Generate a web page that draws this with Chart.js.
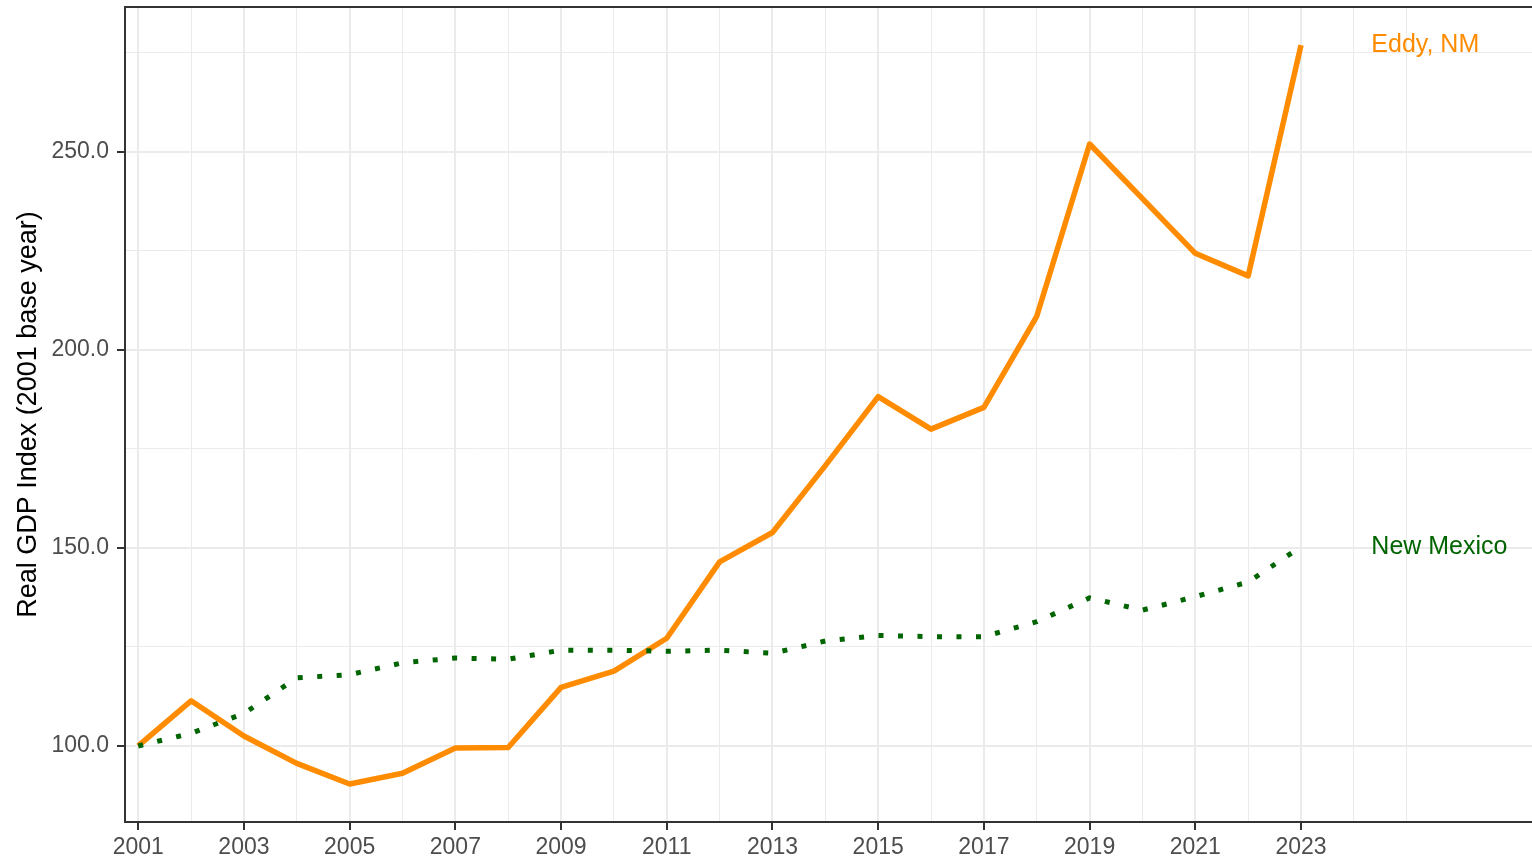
<!DOCTYPE html>
<html>
<head>
<meta charset="utf-8">
<script src="https://cdn.jsdelivr.net/npm/chart.js@4.4.1/dist/chart.umd.min.js"></script>
<style>
  html, body { margin: 0; padding: 0; background: #ffffff; }
  #wrap { width: 1532px; height: 858px; }
</style>
</head>
<body>
<div id="wrap"><canvas id="c" width="1532" height="858"></canvas></div>
<script>
// ---- data ----
const years = [2001, 2002, 2003, 2004, 2005, 2006, 2007, 2008, 2009, 2010, 2011, 2012,
               2013, 2014, 2015, 2016, 2017, 2018, 2019, 2020, 2021, 2022, 2023];
const eddyValues = [100.0, 111.4, 102.5, 95.6, 90.4, 93.1, 99.5, 99.6, 114.8, 118.9, 127.2, 146.5,
                    153.9, 170.8, 188.2, 180.0, 185.5, 208.5, 252.0, 238.2, 224.4, 218.7, 277.0];
const newMexicoValues = [100.0, 103.2, 108.2, 117.2, 118.0, 121.0, 122.2, 121.9, 124.2, 124.2, 123.9, 124.2,
                         123.4, 126.5, 127.9, 127.6, 127.6, 131.4, 137.4, 134.3, 137.7, 141.4, 150.3];
const seriesNames = ['Eddy, NM', 'New Mexico'];
const xTickLabels = ['2001', '2003', '2005', '2007', '2009', '2011', '2013', '2015', '2017', '2019', '2021', '2023'];
const xGridYears = [2001, 2002, 2003, 2004, 2005, 2006, 2007, 2008, 2009, 2010, 2011, 2012, 2013,
                    2014, 2015, 2016, 2017, 2018, 2019, 2020, 2021, 2022, 2023, 2024, 2025];
const yTickLabels = ['100.0', '150.0', '200.0', '250.0'];
const yGridValues = [100, 125, 150, 175, 200, 225, 250, 275];
const yTitle = 'Real GDP Index (2001 base year)';
const labelYear = 2024.33;

// ---- styling ----
const FONT = '"Liberation Sans", Arial, Helvetica, sans-serif';
const ORANGE = '#FF8C00';
const GREEN = '#006400';
const GRID = '#ebebeb';
const AXIS = '#333333';

const isMajorX = v => xTickLabels.includes(String(v));
const isMajorY = v => yTickLabels.includes(Number(v).toFixed(1));

const endLabels = {
  id: 'endLabels',
  afterDatasetsDraw(chart) {
    const {ctx, scales: {x, y}} = chart;
    ctx.save();
    ctx.font = '25px ' + FONT;
    ctx.textAlign = 'left';
    ctx.textBaseline = 'middle';
    chart.data.datasets.forEach(ds => {
      const last = ds.data[ds.data.length - 1];
      ctx.fillStyle = ds.borderColor;
      ctx.fillText(ds.label, x.getPixelForValue(labelYear), y.getPixelForValue(last.y));
    });
    ctx.restore();
  }
};

const topBorder = {
  id: 'topBorder',
  afterDraw(chart) {
    const {ctx, chartArea} = chart;
    ctx.save();
    ctx.strokeStyle = AXIS;
    ctx.lineWidth = 2;
    ctx.beginPath();
    ctx.moveTo(chartArea.left - 1, chartArea.top);
    ctx.lineTo(chartArea.right, chartArea.top);
    ctx.stroke();
    ctx.restore();
  }
};

new Chart(document.getElementById('c'), {
  type: 'line',
  data: {
    datasets: [
      {
        label: seriesNames[0],
        data: years.map((yr, i) => ({x: yr, y: eddyValues[i]})),
        borderColor: ORANGE,
        borderWidth: 5.5,
        pointRadius: 0,
        tension: 0,
        borderCapStyle: 'butt',
        borderJoinStyle: 'round',
        order: 1
      },
      {
        label: seriesNames[1],
        data: years.map((yr, i) => ({x: yr, y: newMexicoValues[i]})),
        borderColor: GREEN,
        borderWidth: 5,
        borderDash: [5, 14.5],
        pointRadius: 0,
        tension: 0,
        borderCapStyle: 'butt',
        borderJoinStyle: 'round',
        order: 0
      }
    ]
  },
  options: {
    responsive: false,
    animation: false,
    devicePixelRatio: 1,
    layout: { padding: { top: 7, right: 0, bottom: 0, left: 0 } },
    plugins: {
      legend: { display: false },
      tooltip: { enabled: false }
    },
    scales: {
      x: {
        type: 'linear',
        min: 2000.75,
        max: 2027.37,
        afterBuildTicks: s => { s.ticks = xGridYears.map(v => ({value: v})); },
        afterFit: s => { s.height = 36; s.paddingLeft = 0; s.paddingRight = 0; },
        ticks: {
          autoSkip: false,
          maxRotation: 0,
          padding: 4,
          color: '#4d4d4d',
          font: { family: FONT, size: 23 },
          callback: v => isMajorX(v) ? String(v) : ''
        },
        grid: {
          color: GRID,
          lineWidth: ctx => isMajorX(ctx.tick.value) ? 2 : 1,
          tickLength: 8,
          tickColor: ctx => isMajorX(ctx.tick.value) ? AXIS : 'rgba(0,0,0,0)',
          tickWidth: 2
        },
        border: { display: true, color: AXIS, width: 2 }
      },
      y: {
        type: 'linear',
        min: 80.8,
        max: 286.6,
        afterBuildTicks: s => { s.ticks = yGridValues.map(v => ({value: v})); },
        afterFit: s => { s.width = 125; s.paddingTop = 0; s.paddingBottom = 0; },
        ticks: {
          autoSkip: false,
          padding: 8,
          color: '#4d4d4d',
          font: { family: FONT, size: 23 },
          callback: v => isMajorY(v) ? Number(v).toFixed(1) : ''
        },
        grid: {
          color: GRID,
          lineWidth: ctx => isMajorY(ctx.tick.value) ? 2 : 1,
          tickLength: 8,
          tickColor: ctx => isMajorY(ctx.tick.value) ? AXIS : 'rgba(0,0,0,0)',
          tickWidth: 2
        },
        border: { display: true, color: AXIS, width: 2 },
        title: {
          display: true,
          text: yTitle,
          color: '#000000',
          font: { family: FONT, size: 27 },
          padding: { top: 12, bottom: 0 }
        }
      }
    }
  },
  plugins: [endLabels, topBorder]
});
</script>
</body>
</html>
